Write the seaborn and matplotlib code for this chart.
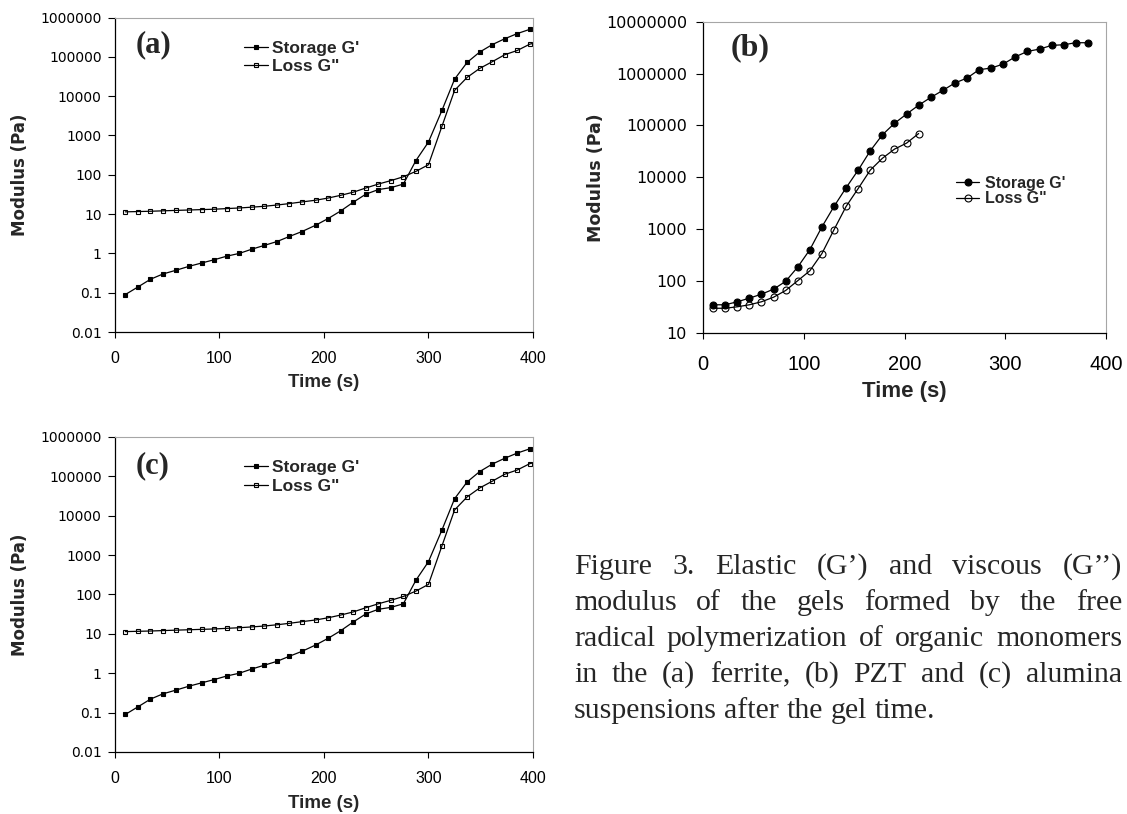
import pandas as pd
import seaborn as sns
import matplotlib.pyplot as plt
from matplotlib.ticker import NullLocator

# panels (a) and (c) show the same measurement
time_a = [10, 22, 34, 46, 58, 71, 83, 95, 107, 119, 131, 143, 155, 167, 179, 192, 204,
          216, 228, 240, 252, 264, 276, 288, 300, 313, 325, 337, 349, 361, 373, 385, 397, 409]
storage_a = [0.09, 0.14, 0.22, 0.30, 0.37, 0.47, 0.57, 0.69, 0.85, 1.0, 1.28, 1.6, 2.0, 2.7,
             3.6, 5.2, 7.7, 12, 20, 32, 42, 47, 58, 230, 680, 4400, 27000, 72000, 132000,
             204000, 288000, 390000, 500000, 600000]
loss_a = [11.4, 11.6, 11.8, 12.1, 12.4, 12.7, 13.0, 13.3, 13.8, 14.3, 15.0, 15.8, 17.0, 18.5,
          20.4, 22.5, 25.6, 30, 36, 46, 58, 71, 89, 122, 180, 1740, 14000, 30000, 50600,
          75000, 113000, 145000, 210000, 250000]

# panel (b)
time_b_storage = [10, 22, 34, 46, 58, 70, 82, 94, 106, 118, 130, 142, 154, 166, 178, 190,
                  202, 214, 226, 238, 250, 262, 274, 286, 298, 310, 322, 334, 346, 358, 370, 382]
storage_b = [35, 35, 40, 47, 56, 70, 99, 187, 403, 1110, 2750, 6300, 13800, 32500, 66000,
             110000, 166000, 246000, 347000, 475000, 660000, 820000, 1190000, 1280000,
             1530000, 2110000, 2680000, 2970000, 3500000, 3600000, 3940000, 3940000]
time_b_loss = [10, 22, 34, 46, 58, 70, 82, 94, 106, 118, 130, 142, 154, 166, 178, 190, 202, 214]
loss_b = [30, 30, 32, 35, 40, 49, 66, 102, 158, 340, 980, 2750, 6100, 13800, 23300, 35000,
          45700, 70000]

series_labels = ["Storage G'", 'Loss G"']
xticks = [0, 100, 200, 300, 400]
yticks_ac = [0.01, 0.1, 1, 10, 100, 1000, 10000, 100000, 1000000]
yticks_b = [10, 100, 1000, 10000, 100000, 1000000, 10000000]

caption_lines = [
    "Figure 3. Elastic (G\u2019) and viscous (G\u2019\u2019)",
    "modulus of the gels formed by the free",
    "radical polymerization of organic monomers",
    "in the (a) ferrite, (b) PZT and (c) alumina",
    "suspensions after the gel time.",
]


def fmt_tick(v):
    if v >= 1:
        return f"{int(round(v))}"
    return f"{v:g}"


def draw_series(ax, t, g, marker, size, filled, label):
    df = pd.DataFrame({'Time': t, 'G': g})
    sns.lineplot(data=df, x='Time', y='G', ax=ax, color='black', lw=0.9,
                 marker=marker, markersize=size,
                 markerfacecolor='black' if filled else 'none',
                 markeredgecolor='black', markeredgewidth=0.8,
                 label=label, sort=False, estimator=None)


def style_axes(ax, yticks, ysize, ypad, xsize, xpad):
    ax.set_yscale('log')
    ax.set_xlim(0, 400)
    ax.set_ylim(yticks[0], yticks[-1])
    ax.set_xticks(xticks, labels=[str(x) for x in xticks],
                  fontfamily='Liberation Sans', fontsize=xsize)
    ax.set_yticks(yticks, labels=[fmt_tick(y) for y in yticks],
                  fontfamily='DejaVu Sans', fontsize=ysize)
    ax.yaxis.set_minor_locator(NullLocator())
    ax.tick_params(axis='y', which='major', left=True, direction='out', length=5,
                   width=0.8, pad=ypad, colors='black')
    ax.tick_params(axis='x', which='major', bottom=True, direction='out', length=4.5,
                   width=0.8, pad=xpad, colors='black')
    for side in ['top', 'right']:
        ax.spines[side].set_color('#a6a6a6')
        ax.spines[side].set_linewidth(0.8)
    for side in ['left', 'bottom']:
        ax.spines[side].set_color('black')
        ax.spines[side].set_linewidth(0.9)
    ax.grid(False)


sns.set_theme(style='white')
plt.rcParams['font.family'] = ['DejaVu Sans']

fig = plt.figure(figsize=(11.27, 8.14), dpi=100)
ax_a = fig.add_axes([0.1020, 0.5921, 0.3709, 0.3864])
ax_b = fig.add_axes([0.6238, 0.5909, 0.3576, 0.3824])
ax_c = fig.add_axes([0.1020, 0.0762, 0.3709, 0.3870])

for ax, letter, ly in [(ax_a, '(a)', 0.9126), (ax_c, '(c)', 0.9086)]:
    draw_series(ax, time_a, storage_a, 's', 3, True, series_labels[0])
    draw_series(ax, time_a, loss_a, 's', 3.5, False, series_labels[1])
    style_axes(ax, yticks_ac, 10, 4.5, 11.5, 9)
    ax.set_xlabel('Time (s)', fontfamily='Liberation Sans', fontweight='bold',
                  fontsize=13.5, va='center')
    ax.xaxis.set_label_coords(0.5, -0.162)
    ax.set_ylabel('Modulus (Pa)', fontfamily='DejaVu Sans', fontweight='bold',
                  fontsize=12, va='center')
    ax.yaxis.set_label_coords(-0.226, 0.5)
    ax.text(0.05, ly, letter, transform=ax.transAxes, fontfamily='Liberation Serif',
            fontweight='bold', fontsize=22, ha='left', va='center')
    ax.legend(loc='center left', bbox_to_anchor=(0.309, 0.873), frameon=False,
              prop={'family': 'Liberation Sans', 'weight': 'bold', 'size': 12.5},
              handlelength=1.4, handletextpad=0.2, labelspacing=0.2,
              borderpad=0, borderaxespad=0)

draw_series(ax_b, time_b_storage, storage_b, 'o', 5, True, series_labels[0])
draw_series(ax_b, time_b_loss, loss_b, 'o', 5, False, series_labels[1])
style_axes(ax_b, yticks_b, 11.5, 6.5, 14.5, 11.5)
ax_b.set_xlabel('Time (s)', fontfamily='Liberation Sans', fontweight='bold',
                fontsize=16, va='center')
ax_b.xaxis.set_label_coords(0.5, -0.1886)
ax_b.set_ylabel('Modulus (Pa)', fontfamily='DejaVu Sans', fontweight='bold',
                fontsize=12.5, va='center')
ax_b.yaxis.set_label_coords(-0.2655, 0.5)
ax_b.text(0.0695, 0.917, '(b)', transform=ax_b.transAxes, fontfamily='Liberation Serif',
          fontweight='bold', fontsize=23, ha='left', va='center')
ax_b.legend(loc='center left', bbox_to_anchor=(0.628, 0.4565), frameon=False,
            prop={'family': 'Liberation Sans', 'weight': 'bold', 'size': 11.5},
            handlelength=1.45, handletextpad=0.35, labelspacing=0.05,
            borderpad=0, borderaxespad=0)

# justified caption to the right of panel (c)
fig_w, fig_h = 1127, 814
left_px, right_px = 574, 1122
baselines = [574, 610, 646, 682, 718]
renderer = fig.canvas.get_renderer()
for i, line in enumerate(caption_lines):
    words = line.split()
    texts = [fig.text(0, 1 - baselines[i] / fig_h, w, fontfamily='Liberation Serif',
                      fontsize=21.5, va='baseline', ha='left') for w in words]
    widths = [t.get_window_extent(renderer).width for t in texts]
    if i == len(caption_lines) - 1:
        gap = 0.25 * 21.5 * 100 / 72
    else:
        gap = (right_px - left_px - sum(widths)) / (len(words) - 1)
    x = left_px
    for t, w in zip(texts, widths):
        t.set_x(x / fig_w)
        x += w + gap

fig.savefig('out.png', dpi=100)
